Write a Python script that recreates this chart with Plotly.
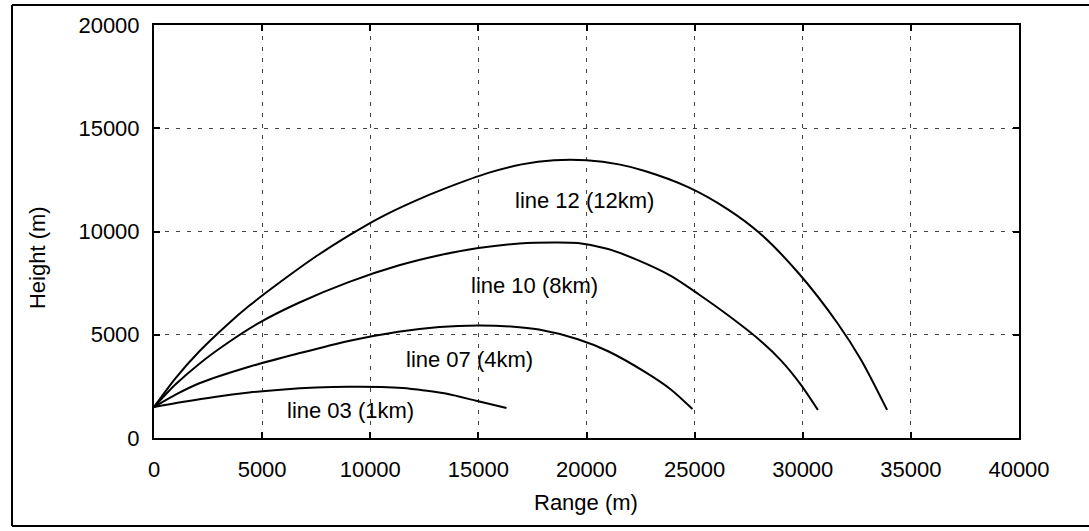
import plotly.graph_objects as go

# Trajectory profiles: range (m) vs height (m)
line03_x = [0, 1300, 2800, 4400, 6000, 7500, 9000, 10500, 11500, 12500, 13600, 14900, 16300]
line03_y = [1500, 1740, 1990, 2200, 2350, 2440, 2480, 2470, 2420, 2300, 2130, 1800, 1450]

line07_x = [0, 1000, 2100, 4400, 6700, 9000, 11300, 13200, 15000, 16500, 17800, 19600, 21000,
            22700, 23900, 24900]
line07_y = [1500, 2100, 2650, 3450, 4100, 4700, 5150, 5380, 5450, 5400, 5250, 4780, 4200,
            3200, 2350, 1400]

line10_x = [0, 1000, 2100, 3400, 4900, 6700, 9000, 11300, 13200, 15000, 16900, 18500, 19600,
            21000, 22400, 23900, 25200, 26500, 28000, 29000, 29900, 30700]
line10_y = [1500, 2600, 3600, 4600, 5600, 6550, 7550, 8350, 8850, 9200, 9420, 9470, 9440,
            9150, 8600, 7850, 6950, 5980, 4750, 3750, 2600, 1360]

line12_x = [0, 1000, 2100, 3400, 4400, 5900, 7500, 9000, 10500, 12000, 13500, 15500, 17000,
            18500, 20000, 21500, 22700, 24700, 26500, 28000, 29800, 31600, 32700, 33900]
line12_y = [1500, 2900, 4200, 5500, 6400, 7600, 8800, 9800, 10700, 11450, 12100, 12850, 13250,
            13450, 13450, 13250, 12930, 12150, 11100, 9930, 7990, 5570, 3780, 1360]

series = [
    ("line 03 (1km)", line03_x, line03_y),
    ("line 07 (4km)", line07_x, line07_y),
    ("line 10 (8km)", line10_x, line10_y),
    ("line 12 (12km)", line12_x, line12_y),
]

# Label anchor positions in data units
label_text = ["line 03 (1km)", "line 07 (4km)", "line 10 (8km)", "line 12 (12km)"]
label_x = [9100, 14600, 17600, 19900]
label_y = [1350, 3780, 7400, 11500]

x_ticks = [0, 5000, 10000, 15000, 20000, 25000, 30000, 35000, 40000]
y_ticks = [0, 5000, 10000, 15000, 20000]

FONT = "Arial, Liberation Sans, Helvetica, sans-serif"
FSIZE = 22

fig = go.Figure()
for name, xs, ys in series:
    fig.add_trace(go.Scatter(
        x=xs, y=ys, name=name, mode="lines",
        line=dict(color="black", width=2, shape="spline", smoothing=0.8),
        showlegend=False, hoverinfo="skip",
    ))

for t, lx, ly in zip(label_text, label_x, label_y):
    fig.add_annotation(x=lx, y=ly, text=t, showarrow=False,
                       font=dict(family=FONT, size=FSIZE, color="black"))

axis_common = dict(
    showline=True, linecolor="black", linewidth=2, mirror="ticks",
    ticks="inside", ticklen=6, tickwidth=2, tickcolor="black",
    showgrid=True, gridcolor="#444444", griddash="4px,7px", gridwidth=1,
    zeroline=False, tickfont=dict(family=FONT, size=FSIZE, color="black"),
)

fig.update_xaxes(range=[0, 40000], tickvals=x_ticks, ticktext=[str(v) for v in x_ticks],
                 ticklabelstandoff=11, **axis_common)
fig.update_yaxes(range=[0, 20000], tickvals=y_ticks, ticktext=[str(v) for v in y_ticks],
                 ticklabelstandoff=8, **axis_common)

# Axis titles
fig.add_annotation(xref="paper", yref="paper", x=0.499, y=-0.155, text="Range (m)",
                   xanchor="center", yanchor="middle", showarrow=False,
                   font=dict(family=FONT, size=FSIZE, color="black"))
fig.add_annotation(xref="paper", yref="paper", x=-0.134, y=0.436, text="Height (m)",
                   xanchor="center", yanchor="middle", textangle=-90, showarrow=False,
                   font=dict(family=FONT, size=FSIZE, color="black"))

# Outer frame: left, top and bottom edges running off to the right
fx0, fx1 = -142 / 865, 1.3
fy0, fy1 = -88 / 413, 1 + 20 / 413
frame = dict(type="line", xref="paper", yref="paper",
             line=dict(color="black", width=2), layer="below")
fig.add_shape(x0=fx0, x1=fx0, y0=fy0, y1=fy1, **frame)
fig.add_shape(x0=fx0, x1=fx1, y0=fy1, y1=fy1, **frame)
fig.add_shape(x0=fx0, x1=fx1, y0=fy0, y1=fy0, **frame)

fig.update_layout(
    width=1089, height=531,
    margin=dict(l=154, r=70, t=25, b=93),
    paper_bgcolor="white", plot_bgcolor="white",
    font=dict(family=FONT, color="black"),
)

fig.write_html("out.html")
